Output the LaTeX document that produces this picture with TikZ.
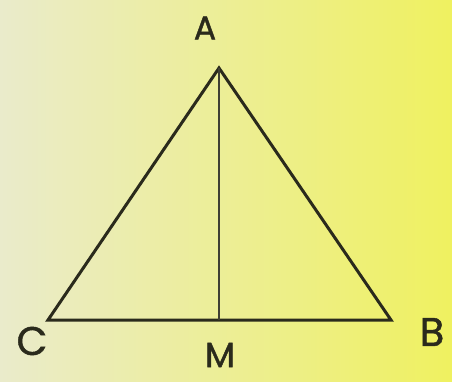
\documentclass[tikz,border=0pt]{standalone}
\usepackage{fontspec}
\setmainfont{Poppins}
\newfontfamily\lblfont[FakeBold=1.2]{Poppins}
\definecolor{lineC}{HTML}{2A2A1C}
\definecolor{bgL}{HTML}{EAEBCB}
\definecolor{bgR}{HTML}{EFF160}
\begin{document}
\begin{tikzpicture}[x=1pt,y=-1pt,
  lbl/.style={text=lineC,font=\lblfont\fontsize{40}{40}\selectfont,inner sep=0pt},
  side/.style={draw=lineC,line width=3pt,line join=miter},
  median/.style={draw=lineC!90,line width=1.5pt}]
\shade[left color=bgL,right color=bgR] (0,0) rectangle (452,381);
\useasboundingbox (0,0) rectangle (452,381);
\coordinate (A) at (219,68);
\coordinate (C) at (48,320);
\coordinate (B) at (391,320);
\coordinate (M) at (219,320);
\draw[side] (A) -- (B) -- (C) -- cycle;
\draw[median] (A) -- (M);
\node[lbl,font=\lblfont\fontsize{33}{33}\selectfont] (lA) at (205,28) {A};
\node[lbl] (lC) at (32,341) {C};
\node[lbl] (lB) at (432,332) {B};
\node[lbl,font=\lblfont\fontsize{35}{35}\selectfont] (lM) at (220,355) {M};
\end{tikzpicture}
\end{document}
